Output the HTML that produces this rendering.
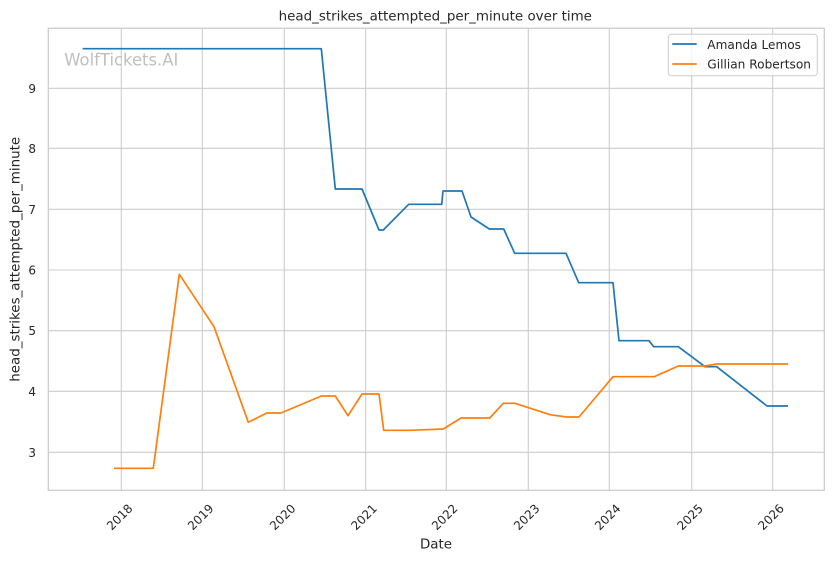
<!DOCTYPE html>
<html>
<head>
<meta charset="utf-8">
<style>
  html, body { margin: 0; padding: 0; background: #ffffff; }
  svg { display: block; }
  text { font-family: "DejaVu Sans", "Liberation Sans", sans-serif; fill: #262626; }
</style>
</head>
<body>
<svg width="832" height="561" viewBox="0 0 832 561" xmlns="http://www.w3.org/2000/svg">
  <rect x="0" y="0" width="832" height="561" fill="#ffffff"/>

  <!-- grid -->
  <g stroke="#cccccc" stroke-width="1.1" fill="none">
    <line x1="121.3" y1="28.3" x2="121.3" y2="490.3"/>
    <line x1="202.3" y1="28.3" x2="202.3" y2="490.3"/>
    <line x1="284.3" y1="28.3" x2="284.3" y2="490.3"/>
    <line x1="365.7" y1="28.3" x2="365.7" y2="490.3"/>
    <line x1="446.3" y1="28.3" x2="446.3" y2="490.3"/>
    <line x1="528.3" y1="28.3" x2="528.3" y2="490.3"/>
    <line x1="609.3" y1="28.3" x2="609.3" y2="490.3"/>
    <line x1="691.7" y1="28.3" x2="691.7" y2="490.3"/>
    <line x1="772.7" y1="28.3" x2="772.7" y2="490.3"/>

    <line x1="48.3" y1="88.3" x2="824.3" y2="88.3"/>
    <line x1="48.3" y1="148.3" x2="824.3" y2="148.3"/>
    <line x1="48.3" y1="209.3" x2="824.3" y2="209.3"/>
    <line x1="48.3" y1="270" x2="824.3" y2="270"/>
    <line x1="48.3" y1="330.7" x2="824.3" y2="330.7"/>
    <line x1="48.3" y1="391.3" x2="824.3" y2="391.3"/>
    <line x1="48.3" y1="452.3" x2="824.3" y2="452.3"/>
  </g>

  <!-- spines -->
  <rect x="48.3" y="28.3" width="776" height="462" fill="none" stroke="#cccccc" stroke-width="1.3"/>

  <!-- watermark -->
  <text x="64.3" y="65.5" font-size="16.5" textLength="114" lengthAdjust="spacingAndGlyphs" style="fill:#bfbfbf">WolfTickets.AI</text>

  <!-- Amanda Lemos -->
  <polyline fill="none" stroke="#1f77b4" stroke-width="1.7" stroke-linejoin="round"
    points="82.7,48.7 321.3,48.7 335.3,189 362,189 379,230 383.3,230 408.7,204.3 441.7,204.3 443,191 462,191 471,217 489.3,229 503.7,229 514.7,253.3 566,253.3 578.7,282.7 613,282.7 619,340.7 649,340.7 653.7,346.7 678.3,346.7 705,366.7 716.7,366.7 767,406 788,406"/>

  <!-- Gillian Robertson -->
  <polyline fill="none" stroke="#ff7f0e" stroke-width="1.7" stroke-linejoin="round"
    points="114,468.3 153.3,468.3 179.3,274.3 214,326.7 248.3,422.3 266.7,413 281,413 321.3,396 335.3,396 348,415.7 362,394 379,394 383.7,430.3 410,430.3 443.3,429 461,418 489.7,418 503.3,403.3 515,403.3 550,414.7 566.7,417 579,417 613,376.7 654.3,376.7 678.3,366 705,366 716.7,364 788,364"/>

  <!-- y tick labels -->
  <g font-size="12" text-anchor="end">
    <text x="36" y="92.8">9</text>
    <text x="36" y="152.8">8</text>
    <text x="36" y="213.8">7</text>
    <text x="36" y="274.5">6</text>
    <text x="36" y="335.2">5</text>
    <text x="36" y="395.8">4</text>
    <text x="36" y="456.8">3</text>
  </g>

  <!-- x tick labels -->
  <g font-size="12" text-anchor="middle">
    <text transform="translate(119.5,517) rotate(-45)" dy="0.36em">2018</text>
    <text transform="translate(200.5,517) rotate(-45)" dy="0.36em">2019</text>
    <text transform="translate(282.5,517) rotate(-45)" dy="0.36em">2020</text>
    <text transform="translate(363.9,517) rotate(-45)" dy="0.36em">2021</text>
    <text transform="translate(444.5,517) rotate(-45)" dy="0.36em">2022</text>
    <text transform="translate(526.5,517) rotate(-45)" dy="0.36em">2023</text>
    <text transform="translate(607.5,517) rotate(-45)" dy="0.36em">2024</text>
    <text transform="translate(689.9,517) rotate(-45)" dy="0.36em">2025</text>
    <text transform="translate(770.9,517) rotate(-45)" dy="0.36em">2026</text>
  </g>

  <!-- axis labels -->
  <text x="436" y="548.3" font-size="13.4" text-anchor="middle">Date</text>
  <text transform="translate(19.5,259.3) rotate(-90)" font-size="13.4" text-anchor="middle" textLength="245" lengthAdjust="spacingAndGlyphs">head_strikes_attempted_per_minute</text>

  <!-- title -->
  <text x="435.3" y="20.3" font-size="13.4" text-anchor="middle" textLength="313.3" lengthAdjust="spacingAndGlyphs">head_strikes_attempted_per_minute over time</text>

  <!-- legend -->
  <rect x="668.3" y="34.3" width="149" height="41.4" rx="3" ry="3" fill="#ffffff" fill-opacity="0.8" stroke="#cccccc" stroke-width="1"/>
  <line x1="672.3" y1="44" x2="696.7" y2="44" stroke="#1f77b4" stroke-width="1.7"/>
  <line x1="672.3" y1="64" x2="696.7" y2="64" stroke="#ff7f0e" stroke-width="1.7"/>
  <text x="707.3" y="49" font-size="12" textLength="93.7" lengthAdjust="spacingAndGlyphs">Amanda Lemos</text>
  <text x="707.3" y="68.7" font-size="12" textLength="103.7" lengthAdjust="spacingAndGlyphs">Gillian Robertson</text>
</svg>
</body>
</html>
